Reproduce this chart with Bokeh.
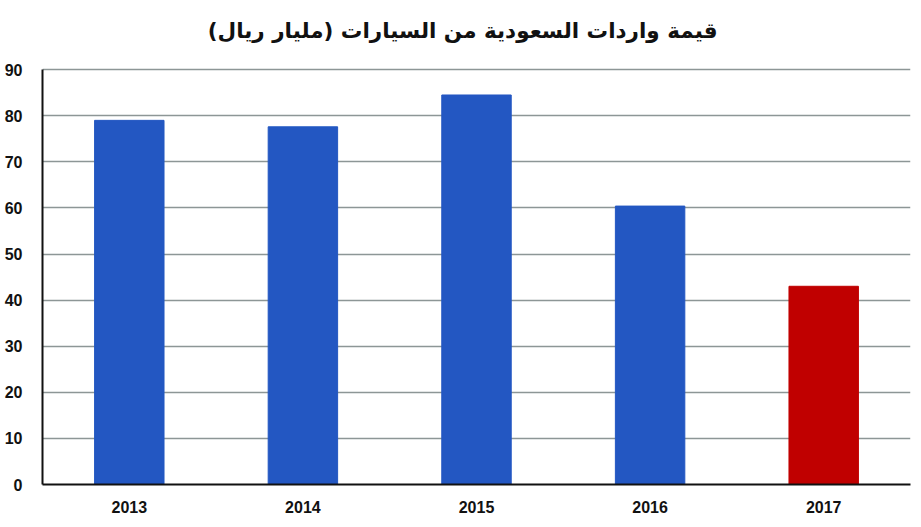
from bokeh.plotting import figure
from bokeh.models import ColumnDataSource, FixedTicker
from bokeh.core.properties import value
from bokeh.embed import file_html
from bokeh.resources import INLINE

years = ["2013", "2014", "2015", "2016", "2017"]
values = [79.0, 77.6, 84.5, 60.4, 43.0]
colors = ["#2357c2", "#2357c2", "#2357c2", "#2357c2", "#c00000"]
y_ticks = [0, 10, 20, 30, 40, 50, 60, 70, 80, 90]
title_text = "قيمة واردات السعودية من السيارات (مليار ريال)"

src = ColumnDataSource(dict(x=years, top=values, color=colors))

p = figure(x_range=years, y_range=(0, 105), width=913, height=519,
           output_backend="svg", toolbar_location=None,
           min_border_left=42, min_border_right=3, min_border_top=0, min_border_bottom=35)
p.title = None

p.vbar(x="x", top="top", width=0.4, bottom=0, source=src,
       fill_color="color", line_color="color")

# chart title drawn inside the (hidden) headroom above the 90 gridline
p.text(x=[2.42], y=[98.5], text=[title_text], text_align="center", text_baseline="middle",
       text_font=value("DejaVu Sans"), text_font_size="21.5px", text_font_style="bold",
       text_color="#111111")

p.outline_line_color = None
p.xgrid.grid_line_color = None
p.ygrid.grid_line_color = "#8d9696"
p.ygrid.grid_line_width = 1.5
p.yaxis.ticker = FixedTicker(ticks=y_ticks)
p.yaxis.bounds = (0, 90)

for ax in (p.xaxis, p.yaxis):
    ax.axis_line_color = "#111111"
    ax.axis_line_width = 2
    ax.major_tick_line_color = None
    ax.minor_tick_line_color = None
    ax.major_label_text_font = "Liberation Sans"
    ax.major_label_text_font_style = "bold"
    ax.major_label_text_font_size = "16px"
    ax.major_label_text_color = "#111111"

p.yaxis.major_label_standoff = 14
p.xaxis.major_label_standoff = 10

open("out.html", "w").write(file_html(p, INLINE))
